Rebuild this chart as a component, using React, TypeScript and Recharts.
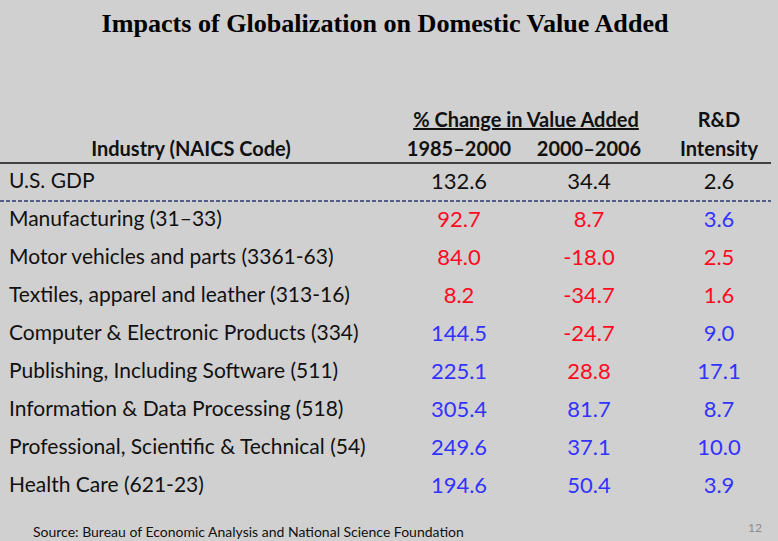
import React from 'react';
import { ScatterChart, Scatter, XAxis, YAxis, Customized } from 'recharts';

const industries = [
  'U.S. GDP',
  'Manufacturing (31–33)',
  'Motor vehicles and parts (3361-63)',
  'Textiles, apparel and leather (313-16)',
  'Computer & Electronic Products (334)',
  'Publishing, Including Software (511)',
  'Information & Data Processing (518)',
  'Professional, Scientific & Technical (54)',
  'Health Care (621-23)',
];
const change1985to2000 = [132.6, 92.7, 84.0, 8.2, 144.5, 225.1, 305.4, 249.6, 194.6];
const change2000to2006 = [34.4, 8.7, -18.0, -34.7, -24.7, 28.8, 81.7, 37.1, 50.4];
const rdIntensity = [2.6, 3.6, 2.5, 1.6, 9.0, 17.1, 8.7, 10.0, 3.9];
const columns = ['1985–2000', '2000–2006', 'R&D Intensity'];

const FONT = 'Lato, "Noto Sans", sans-serif';
const RED = '#ff0a1e';
const BLUE = '#3333ff';

// one scatter series per column, each point is drawn as its value text
const toPoints = (col: string, values: number[]) =>
  values.map((v, i) => ({
    industry: industries[i],
    col,
    value: v,
    // GDP row is black; others red when below the GDP figure, blue when above
    color: i === 0 ? '#111' : v < values[0] ? RED : BLUE,
  }));

const seriesData = [
  toPoints(columns[0], change1985to2000),
  toPoints(columns[1], change2000to2006),
  toPoints(columns[2], rdIntensity),
];

const ValueCell = (props: any) => {
  const { cx, cy, payload } = props;
  return (
    <text x={cx} y={cy} dy={8} textAnchor="middle" fontFamily={FONT} fontSize={22} fill={payload.color}>
      {payload.value.toFixed(1)}
    </text>
  );
};

const ColumnTick = (props: any) => {
  const { x, payload } = props;
  const parts = String(payload.value).split(' ');
  return (
    <g fontFamily={FONT} fontSize={20} fontWeight={700} fill="#111" textAnchor="middle">
      {parts.length > 1 && <text x={x} y={127}>{parts[0]}</text>}
      <text x={x} y={156}>{parts[parts.length - 1]}</text>
    </g>
  );
};

const IndustryTick = (props: any) => {
  const { y, payload } = props;
  return (
    <text x={9} y={y} dy={7.5} textAnchor="start" fontFamily={FONT} fontSize={21} fill="#111">
      {payload.value}
    </text>
  );
};

const Overlay = () => (
  <g>
    <text x={385} y={32} textAnchor="middle" fontFamily='"Liberation Serif", "Times New Roman", serif'
      fontWeight={700} fontSize={26} fill="#000" textLength={567} lengthAdjust="spacingAndGlyphs">
      Impacts of Globalization on Domestic Value Added
    </text>
    <text x={526} y={127} textAnchor="middle" fontFamily={FONT} fontSize={20} fontWeight={700}
      fill="#111" textDecoration="underline">
      % Change in Value Added
    </text>
    <text x={191} y={156} textAnchor="middle" fontFamily={FONT} fontSize={20} fontWeight={700} fill="#111">
      Industry (NAICS Code)
    </text>
    <line x1={0} x2={771} y1={163} y2={163} stroke="#111" strokeWidth={1.5} />
    <line x1={0} x2={771} y1={201} y2={201} stroke="#2b3670" strokeWidth={1.5} strokeDasharray="4 2" />
    <text x={33} y={537} fontFamily={FONT} fontSize={14} fill="#111">
      Source: Bureau of Economic Analysis and National Science Foundation
    </text>
    <text x={762} y={532} textAnchor="end" fontFamily={FONT} fontSize={12} fill="#8c8c8c">
      12
    </text>
  </g>
);

export default function App() {
  return (
    <div style={{ position: 'absolute', left: 0, top: 0, width: 778, height: 541, background: '#d0d0d0' }}>
      <ScatterChart width={778} height={541} margin={{ top: 0, right: -6, bottom: 37.5, left: 0 }}>
        <XAxis
          xAxisId={0}
          type="category"
          dataKey="col"
          orientation="top"
          height={161.5}
          allowDuplicatedCategory={false}
          axisLine={false}
          tickLine={false}
          tick={<ColumnTick />}
          interval={0}
        />
        <YAxis
          yAxisId={0}
          type="category"
          dataKey="industry"
          width={394}
          reversed
          allowDuplicatedCategory={false}
          axisLine={false}
          tickLine={false}
          tick={<IndustryTick />}
          interval={0}
        />
        {seriesData.map((d, k) => (
          <Scatter key={columns[k]} data={d} shape={<ValueCell />} isAnimationActive={false} />
        ))}
        <Customized component={<Overlay />} />
      </ScatterChart>
    </div>
  );
}
